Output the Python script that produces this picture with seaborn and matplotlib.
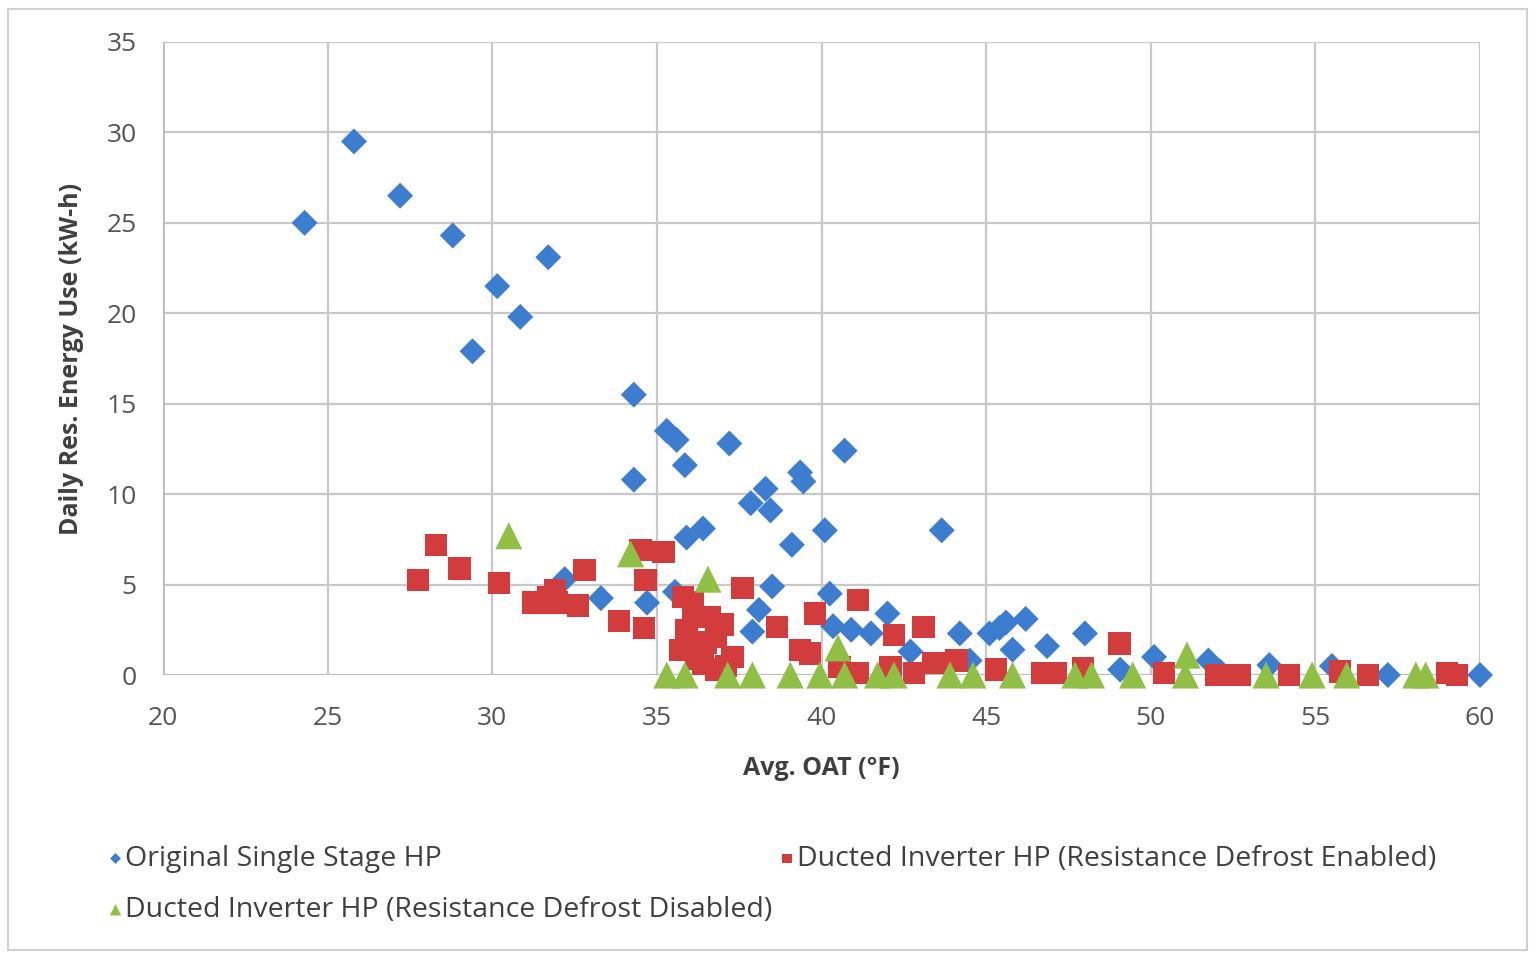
import matplotlib
matplotlib.use("Agg")
import matplotlib.pyplot as plt
import seaborn as sns
from matplotlib.patches import Rectangle

# Original Single Stage HP
orig_x = [24.3, 25.8, 27.2, 28.8, 29.4, 30.15, 30.85, 31.7, 32.2, 33.3, 34.3, 34.3, 34.7,
          35.3, 35.6, 35.55, 35.85, 35.9, 36.4, 37.2, 37.85, 38.3, 38.45, 37.9, 38.1, 38.5,
          39.1, 39.35, 39.45, 40.1, 40.25, 40.35, 40.7, 40.9, 41.5, 42.0, 42.7, 43.65, 44.2,
          44.5, 45.1, 45.4, 45.6, 45.8, 46.2, 46.85, 48.0, 49.07, 50.1, 51.75, 52.1, 53.6,
          55.5, 57.2, 60.0]
orig_y = [25.0, 29.5, 26.5, 24.3, 17.9, 21.5, 19.8, 23.1, 5.3, 4.25, 15.5, 10.8, 4.0,
          13.5, 13.0, 4.6, 11.6, 7.6, 8.1, 12.8, 9.5, 10.3, 9.1, 2.4, 3.6, 4.9,
          7.2, 11.2, 10.7, 8.0, 4.5, 2.7, 12.4, 2.5, 2.3, 3.4, 1.3, 8.0, 2.3,
          0.8, 2.3, 2.6, 2.9, 1.4, 3.1, 1.6, 2.3, 0.3, 1.0, 0.8, 0.2, 0.55,
          0.5, 0.0, 0.0]

# Ducted Inverter HP (Resistance Defrost Enabled)
enab_x = [27.75, 28.3, 29.0, 30.2, 31.25, 31.7, 31.9, 31.95, 32.6, 32.8, 33.85, 34.6, 34.65,
          34.5, 35.2, 35.7, 35.8, 36.1, 36.1, 35.9, 36.3, 36.6, 36.8, 36.8, 37.0, 36.4, 36.5,
          37.1, 36.2, 37.3, 37.6, 38.65, 39.35, 39.65, 39.8, 40.55, 41.1, 41.1, 42.1, 42.2,
          42.8, 43.1, 43.4, 44.1, 45.3, 46.7, 47.1, 47.95, 49.05, 50.4, 52.0, 52.7, 54.2,
          55.75, 56.6, 59.0, 59.3]
enab_y = [5.25, 7.2, 5.9, 5.1, 4.0, 4.3, 4.7, 4.0, 3.85, 5.8, 3.0, 2.6, 5.25,
          6.9, 6.8, 1.4, 4.3, 4.0, 3.6, 2.5, 1.55, 3.2, 2.1, 0.3, 2.8, 0.6, 1.8,
          0.5, 0.9, 1.0, 4.8, 2.65, 1.4, 1.2, 3.4, 0.45, 4.15, 0.1, 0.45, 2.2,
          0.1, 2.65, 0.65, 0.8, 0.3, 0.1, 0.1, 0.4, 1.75, 0.1, 0.0, 0.0, 0.0,
          0.2, 0.0, 0.1, 0.0]

# Ducted Inverter HP (Resistance Defrost Disabled)
dis_x = [30.5, 34.2, 36.55, 40.5, 51.1, 35.3, 35.85, 37.15, 37.9, 39.05, 39.95, 40.7, 41.7,
         42.2, 43.9, 44.6, 45.8, 47.7, 48.2, 49.45, 51.05, 53.5, 54.9, 55.95, 58.05, 58.35]
dis_y = [7.7, 6.7, 5.3, 1.5, 1.1, 0.0, 0.0, 0.0, 0.0, 0.0, 0.0, 0.0, 0.0,
         0.0, 0.0, 0.0, 0.0, 0.0, 0.0, 0.0, 0.0, 0.0, 0.0, 0.0, 0.0, 0.0]

x_ticks = [20, 25, 30, 35, 40, 45, 50, 55, 60]
y_ticks = [0, 5, 10, 15, 20, 25, 30, 35]

blue = "#3d7dcf"
red = "#d23c3c"
green = "#8fbf45"

sns.set_style("white")
plt.rcParams['font.family'] = ['Open Sans', 'DejaVu Sans']

fig = plt.figure(figsize=(15.35, 9.56), dpi=100)
ax = fig.add_axes([0.1062, 0.2939, 0.858, 0.6622])

sns.scatterplot(x=orig_x, y=orig_y, marker="D", s=175, color=blue, edgecolor="none",
                label="Original Single Stage HP", ax=ax, zorder=3, clip_on=False)
sns.scatterplot(x=enab_x, y=enab_y, marker="s", s=260, color=red, edgecolor="none",
                label="Ducted Inverter HP (Resistance Defrost Enabled)", ax=ax, zorder=4,
                clip_on=False)
sns.scatterplot(x=dis_x, y=dis_y, marker="^", s=380, color=green, edgecolor="none",
                label="Ducted Inverter HP (Resistance Defrost Disabled)", ax=ax, zorder=5,
                clip_on=False)

ax.set_xlim(20, 60)
ax.set_ylim(0, 35)
ax.set_xticks(x_ticks)
ax.set_yticks(y_ticks)
ax.grid(True, color="#c8c8c8", linewidth=1.6, zorder=0)
ax.set_axisbelow(True)
for sp in ax.spines.values():
    sp.set_visible(False)
ax.axvline(20, color="#b8b8b8", linewidth=1.8, zorder=1)
ax.axhline(0, color="#b8b8b8", linewidth=1.8, zorder=1)
ax.tick_params(axis="both", colors="#b8b8b8", labelcolor="#555555", labelsize=19,
               length=7, width=1.6, direction="out")
ax.tick_params(axis="x", pad=22, length=0)
ax.tick_params(axis="y", pad=12)

ax.set_xlabel("Avg. OAT (°F)", fontsize=18, fontweight="bold", color="#404040", labelpad=18)
ax.set_ylabel("Daily Res. Energy Use (kW-h)", fontsize=18, fontweight="bold", color="#404040",
              labelpad=16)

handles, labels = ax.get_legend_handles_labels()
ax.get_legend().remove()
order = [0, 2, 1]
fig.legend([handles[i] for i in order], [labels[i] for i in order], loc="upper left",
           bbox_to_anchor=(0.053, 0.143), ncol=2, frameon=False, fontsize=20.5,
           labelcolor="#404040", markerscale=0.42, handletextpad=0.05, handlelength=0.6,
           columnspacing=0.2, labelspacing=0.82)

fig.patches.append(Rectangle((0.005, 0.006), 0.99, 0.985, transform=fig.transFigure,
                             fill=False, edgecolor="#d0d0d0", linewidth=1.5))

fig.savefig("out.png", dpi=100)
